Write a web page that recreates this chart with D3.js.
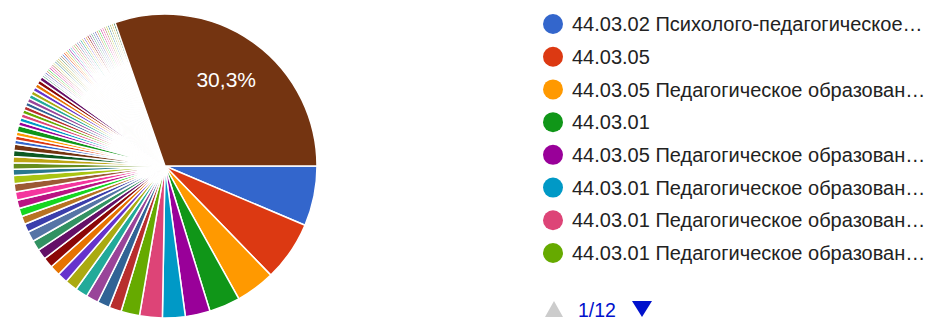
<!DOCTYPE html>
<html>
<head>
<meta charset="utf-8">
<title>Pie</title>
<script src="https://cdn.jsdelivr.net/npm/d3@7"></script>
<style>
  body { margin: 0; background: #fff; }
  svg { display: block; font-family: "Liberation Sans", Arial, sans-serif; }
  .legend text { font-size: 20px; fill: #222; }
</style>
</head>
<body>
<script>
// google charts palette (slices take colours in order)
var palette = ["#3366cc","#dc3912","#ff9900","#109618","#990099","#0099c6","#dd4477","#66aa00",
  "#b82e2e","#316395","#994499","#22aa99","#aaaa11","#6633cc","#e67300","#8b0707","#651067",
  "#329262","#5574a6","#3b3eac","#b77322","#16d620","#b91383","#f4359e","#9c5935","#a9c413",
  "#2a778d","#668d1c","#bea413","#0c5922","#743411"];

// answer counts, in legend order (93 answers, 12 legend pages)
var countsTop = [29, 29, 19, 15, 12, 11, 11, 9];
var countsMid = [6, 6, 6, 6, 6, 5, 5, 5, 5,
                 5, 5, 4, 4, 4, 4, 4, 4, 4, 3, 3, 3, 3, 3];
var countsSmall = [2, 2, 2, 3, 2, 2, 2, 2, 2, 2, 2, 2, 2, 2, 2, 2, 2];
var countsOne = [1,1,1,1,1,1,1,1,1,1,1,1,1,1,1,1,1,1,1,1,1,1,
                 1,1,1,1,1,1,1,1,1,1,1,1,1,1,1,1,1,1,1,1,1,1];
var countsLast = [138];

// first legend page (1/12)
var legendLabels = [
  "44.03.02 Психолого-педагогическое…",
  "44.03.05",
  "44.03.05 Педагогическое образован…",
  "44.03.01",
  "44.03.05 Педагогическое образован…",
  "44.03.01 Педагогическое образован…",
  "44.03.01 Педагогическое образован…",
  "44.03.01 Педагогическое образован…"
];
var pageLabel = "1/12";

var counts = countsTop.concat(countsMid, countsSmall, countsOne, countsLast);
var total = d3.sum(counts);

var width = 935, height = 318;
var cx = 165, cy = 166, radius = 152;

var svg = d3.select("body").append("svg")
  .attr("width", width)
  .attr("height", height);

var color = function(i) { return palette[i % palette.length]; };

var pie = d3.pie()
  .sort(null)
  .value(function(d) { return d; })
  .startAngle(Math.PI / 2)
  .endAngle(Math.PI / 2 + 2 * Math.PI);

var arc = d3.arc().innerRadius(0).outerRadius(radius);
var labelArc = d3.arc().innerRadius(radius * 0.695).outerRadius(radius * 0.695);

var arcs = pie(counts);

var g = svg.append("g").attr("transform", "translate(" + cx + "," + cy + ")");
g.selectAll("path")
  .data(arcs)
  .enter().append("path")
  .attr("d", arc)
  .attr("fill", function(d, i) { return color(i); })
  .attr("stroke", "#fff")
  .attr("stroke-width", 1.5)
  .attr("stroke-linejoin", "round");

// only slices big enough get a percent label
var fmt = function(v) { return (Math.round(v * 1000) / 10).toString().replace(".", ",") + "%"; };
g.selectAll("text.pct")
  .data(arcs.filter(function(d) { return d.value / total > 0.1; }))
  .enter().append("text")
  .attr("class", "pct")
  .attr("transform", function(d) { return "translate(" + labelArc.centroid(d) + ")"; })
  .attr("text-anchor", "middle")
  .attr("dy", "0.36em")
  .attr("fill", "#fff")
  .attr("font-size", 21)
  .text(function(d) { return fmt(d.value / total); });

// legend
var rowY = d3.scaleLinear().domain([0, 7]).range([24, 253]);
var legend = svg.append("g").attr("class", "legend");
var row = legend.selectAll("g")
  .data(legendLabels)
  .enter().append("g")
  .attr("transform", function(d, i) { return "translate(553," + rowY(i) + ")"; });
row.append("circle")
  .attr("r", 10)
  .attr("fill", function(d, i) { return color(i); });
row.append("text")
  .attr("x", 19)
  .attr("dy", "0.36em")
  .text(function(d) { return d; });

// pager
var pager = svg.append("g");
pager.append("path")
  .attr("d", "M554,301 L563,317 L545,317 Z")
  .attr("fill", "#ccc");
pager.append("text")
  .attr("x", 578)
  .attr("y", 316.5)
  .attr("font-size", 19.5)
  .attr("fill", "#0011cc")
  .text(pageLabel);
pager.append("path")
  .attr("d", "M632,301 L652,301 L642,317 Z")
  .attr("fill", "#0011cc");
</script>
</body>
</html>
